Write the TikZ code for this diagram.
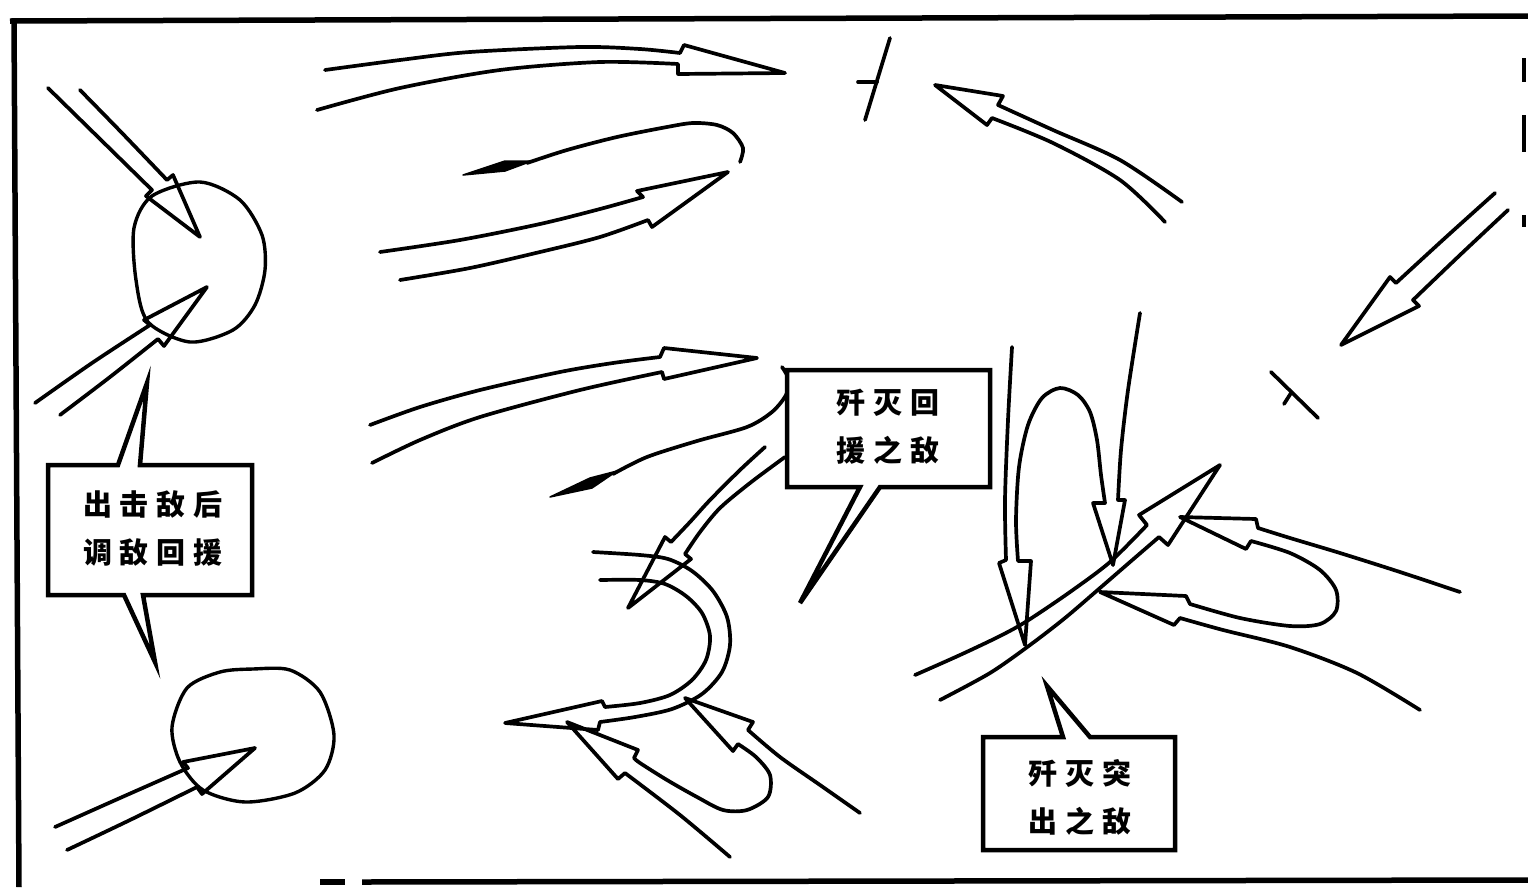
\documentclass[tikz,border=0pt]{standalone}
\usepackage{fontspec}
\newfontfamily\cjk{Noto Sans CJK SC}
\usetikzlibrary{calc}
\newcommand{\gp}{\hspace{8pt}}
\begin{document}
\begin{tikzpicture}[x=1pt,y=-1pt,
  ln/.style={line width=3.7pt,line cap=round,line join=round},
  ring/.style={line width=3.4pt},
  frame/.style={line width=5.5pt},
  callout/.style={line width=4.5pt,line join=miter,fill=white},
  lbl/.style={font=\cjk\bfseries\fontsize{29}{48}\selectfont,align=center,inner sep=0pt},
  wedge/.style={fill=black,draw=black,line width=1.5pt,line join=round}]
\useasboundingbox (0,0) rectangle (1528,887);

% frame
\draw[frame] (10,21) -- (1528,16);
\draw[frame] (14,19) -- (19,887);
\draw[frame] (320,882) -- (345,882);
\draw[frame] (362,882) -- (1528,880);
\draw[line width=4pt] (1524,58) -- (1524,82);
\draw[line width=4pt] (1524,115) -- (1524,152);
\draw[line width=4pt] (1524,215) -- (1524,227);

% circles
\draw[ring] plot[smooth cycle] coordinates {(200,182) (240,200) (262,235) (265,270) (255,305) (233,330) (190,342) (148,322) (136,280) (134,228) (152,196)};
\draw[ring] plot[smooth cycle] coordinates {(253,669) (290,670) (320,692) (334,735) (325,770) (295,793) (245,802) (203,790) (180,762) (172,727) (187,688) (220,672)};

% arrow into top circle from upper left
\draw[ln] plot[smooth] coordinates {(48,88) (100,139) (152,190)} -- (146,196) -- (200,237) -- (173,175) -- plot[smooth] coordinates {(167,180) (122,133) (80,90)};
% arrow into top circle from lower left
\draw[ln] plot[smooth] coordinates {(35,403) (92,363) (150,325)} -- (144,320) -- (207,287) -- (164,346) -- plot[smooth] coordinates {(158,339) (110,377) (60,415)};
% arrow into bottom circle
\draw[ln] plot[smooth] coordinates {(55,827) (120,798) (188,768)} -- (183,762) -- (255,748) -- (202,794) -- plot[smooth] coordinates {(197,787) (130,820) (67,850)};

% arrow A (top, to the right)
\draw[ln] plot[smooth] coordinates {(325,70) (400,60) (470,52) (580,47) (640,49) (680,53)} -- (684,45) -- (785,73) -- (678,74) -- plot[smooth] coordinates {(678,64) (600,62) (500,70) (400,88) (317,110)};
% line B (hook with thin solid head)
\draw[ln] plot[smooth] coordinates {(740,162) (743,148) (733,133) (717,125) (693,123) (667,127) (617,137) (567,150) (527,163)};
\draw[wedge] (463,175) -- (505,161) -- (532,161) -- (505,171) -- cycle;
% arrow C
\draw[ln] plot[smooth] coordinates {(380,252) (460,240) (540,224) (600,209) (643,197)} -- (637,191) -- (728,172) -- (652,227) -- plot[smooth] coordinates {(648,220) (600,237) (540,252) (470,268) (400,280)};

% slash mark
\draw[ln] (890,38) -- (865,120);
\draw[ln] (858,82) -- (877,82);
% arrow D (to the upper left)
\draw[ln] plot[smooth] coordinates {(1182,202) (1120,160) (1053,130) (998,105)} -- (1003,96) -- (935,85) -- (987,125) -- plot[smooth] coordinates {(992,118) (1053,143) (1120,180) (1165,222)};
% arrow E (to the lower left)
\draw[ln] plot[smooth] coordinates {(1495,193) (1445,238) (1396,283)} -- (1390,277) -- (1341,345) -- (1419,306) -- plot[smooth] coordinates {(1413,300) (1460,255) (1508,210)};
% T mark
\draw[ln] (1271,372) -- (1318,418);
\draw[ln] (1291,393) -- (1284,404);

% arrow F
\draw[ln] plot[smooth] coordinates {(370,425) (420,407) (480,390) (560,372) (613,363) (660,357)} -- (664,348) -- (757,358) -- (664,379) -- plot[smooth] coordinates {(662,372) (580,390) (480,417) (420,440) (372,463)};
% line G (hook with thin solid head)
\draw[ln] plot[smooth] coordinates {(782,367) (789,380) (786,395) (772,412) (747,427) (697,441) (647,457) (613,474)};
\draw[wedge] (550,497) -- (590,478) -- (617,471) -- (592,488) -- cycle;
% arrow H (from box 2 down-left)
\draw[ln] plot[smooth] coordinates {(765,447) (740,470) (710,500) (690,522) (671,542)} -- (665,537) -- (628,608) -- (691,559) -- plot[smooth] coordinates {(685,554) (700,532) (720,508) (750,483) (785,457)};

% S-shaped double arrow
\draw[ln] plot[smooth] coordinates {(593,552) (640,555) (668,559) (692,571) (713,591) (727,617) (730,645) (722,672) (702,694) (672,709) (635,717) (600,722)} -- (598,730) -- (505,723) -- (602,701) -- plot[smooth] coordinates {(605,707) (640,703) (670,695) (692,680) (706,660) (710,636) (702,613) (686,596) (665,584) (640,580) (600,580)};
% forked arrows P and Q with the loop
\draw[ln] plot[smooth] coordinates {(860,813) (820,785) (780,757) (748,730)} -- (753,722) -- (685,698) -- (733,751) -- plot[smooth] coordinates {(738,744) (756,757) (770,775) (768,797) (747,810) (723,810) (697,797) (667,780) (640,763) (634,758)} -- (638,750) -- (567,722) -- (618,779) -- plot[smooth] coordinates {(625,773) (680,815) (730,857)};

% main diagonal arrow
\draw[ln] plot[smooth] coordinates {(915,675) (960,655) (1000,636) (1027,621) (1070,592) (1110,562) (1147,525)} -- (1139,515) -- (1220,465) -- (1168,545) -- plot[smooth] coordinates {(1159,537) (1130,562) (1100,588) (1065,618) (1030,645) (990,673) (940,700)};
% two downward arrows joined by a loop
\draw[ln] plot[smooth] coordinates {(1012,347) (1008,420) (1005,500) (1006,560)} -- (999,563) -- (1025,645) -- (1031,561) -- plot[smooth] coordinates {(1018,561) (1016,520) (1019,467) (1028,425) (1042,398) (1060,388) (1078,395) (1090,412) (1097,440) (1101,475) (1105,503)} -- (1093,503) -- (1113,565) -- (1125,500) -- plot[smooth] coordinates {(1118,500) (1121,450) (1128,390) (1140,313)};
% two leftward arrows joined by a loop
\draw[ln] plot[smooth] coordinates {(1460,592) (1400,572) (1340,553) (1290,538) (1258,528)} -- (1256,519) -- (1180,517) -- (1246,549) -- plot[smooth] coordinates {(1251,541) (1290,553) (1320,570) (1336,590) (1336,611) (1320,624) (1290,626) (1240,618) (1190,604)} -- (1186,596) -- (1100,592) -- (1174,625) -- plot[smooth] coordinates {(1180,618) (1223,630) (1290,647) (1357,673) (1420,710)};

% callouts
\draw[callout] (48,465) -- (118,465) -- (147,383) -- (140,465) -- (252,465) -- (252,595) -- (143,595) -- (155,662) -- (124,595) -- (48,595) -- cycle;
\node[lbl] (box1) at (153,528) {出\gp 击\gp 敌\gp 后\\调\gp 敌\gp 回\gp 援};
\draw[callout] (787,370) -- (990,370) -- (990,487) -- (880,487) -- (800,603) -- (860,487) -- (787,487) -- cycle;
\node[lbl] (box2) at (888,427) {歼\gp 灭\gp 回\\援\gp 之\gp 敌};
\draw[callout] (983,737) -- (1063,737) -- (1047,686) -- (1090,737) -- (1175,737) -- (1175,850) -- (983,850) -- cycle;
\node[lbl] (box3) at (1080,797) {歼\gp 灭\gp 突\\出\gp 之\gp 敌};
\end{tikzpicture}
\end{document}
